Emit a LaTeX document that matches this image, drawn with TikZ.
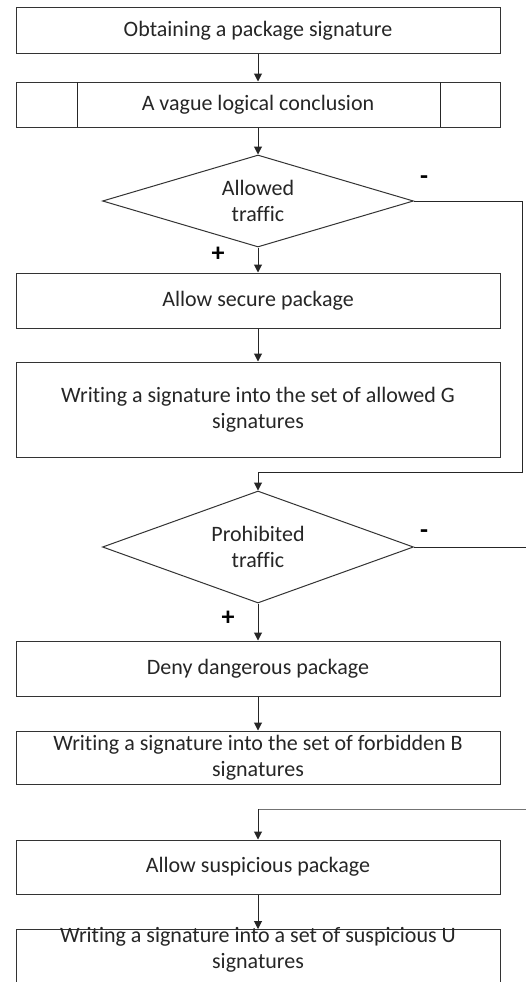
\documentclass[tikz,border=0pt]{standalone}
\usepackage{fontspec}
\setmainfont{Carlito}[Ligatures={NoCommon}]
\usetikzlibrary{shapes.geometric,arrows.meta}
\begin{document}
\begin{tikzpicture}[x=1pt,y=-1pt,
  every node/.style={font=\fontsize{22}{26}\selectfont, text=black!85},
  box/.style={draw=black!80, line width=1pt, minimum width=484pt, inner sep=0pt, align=center},
  dec/.style={draw=black!80, line width=1pt, shape=diamond, minimum width=311pt, inner sep=0pt, align=center},
  flow/.style={draw=black!85, line width=1pt, -{Triangle[width=8pt,length=8pt]}},
  plain/.style={draw=black!85, line width=1pt},
  lbl/.style={inner sep=0pt, font=\fontsize{26}{28}\selectfont\bfseries, text=black}]
\useasboundingbox (0,0) rectangle (525,982);
\fill[white] (0,0) rectangle (525,982);

\node[box, minimum height=46pt] (b1) at (258,31) {Obtaining a package signature};
\node[box, minimum height=45pt] (b2) at (258,104.5) {A vague logical conclusion};
\draw[plain] (77,82) -- (77,127) (440,82) -- (440,127);
\node[dec, aspect=3.38, minimum height=92pt] (d1) at (258,201) {\fontsize{22}{25}\selectfont Allowed\\traffic};
\node[box, minimum height=55pt] (b3) at (258,300.5) {Allow secure package};
\node[box, minimum height=95pt] (b4) at (258,409.5) {\fontsize{22}{26.5}\selectfont Writing a signature into the set of allowed G\\signatures};
\node[dec, aspect=2.78, minimum height=112pt] (d2) at (258,547) {\fontsize{22}{25}\selectfont Prohibited\\traffic};
\node[box, minimum height=55pt] (b5) at (258,668.5) {Deny dangerous package};
\node[box, minimum height=53pt] (b6) at (258,757.5) {\fontsize{22}{30}\selectfont Writing a signature into the set of forbidden B\\signatures};
\node[box, minimum height=54pt] (b7) at (258,867) {Allow suspicious package};
\node[box, minimum height=80pt, anchor=north] (b8) at (258,929) {};
\node[inner sep=0pt, align=center] (b8t) at (258,950) {\fontsize{22}{30}\selectfont Writing a signature into a set of suspicious U\\signatures};

\node[lbl] (m1) at (424,180) {-};
\node[lbl] (p1) at (218,254) {+};
\node[lbl] (m2) at (424,534) {-};
\node[lbl] (p2) at (228,618) {+};

\coordinate (r1a) at (522,201);
\coordinate (r1b) at (522,472);
\coordinate (r1c) at (258,472);
\coordinate (r2) at (526,547);
\coordinate (r3) at (526,809);
\coordinate (r3c) at (258,809);

\draw[flow] (b1) -- (b2);
\draw[flow] (b2) -- (d1);
\draw[flow] (d1) -- (b3);
\draw[flow] (b3) -- (b4);
\draw[flow] (d1.east) -- (r1a) -- (r1b) -- (r1c) -- (d2.north);
\draw[flow] (d2) -- (b5);
\draw[flow] (b5) -- (b6);
\draw[plain] (d2.east) -- (r2);
\draw[draw=black!55, line width=1pt] (r3) -- (r3c);
\draw[flow] (r3c) -- (b7.north);
\draw[flow] (b7) -- (b8);
\end{tikzpicture}
\end{document}
